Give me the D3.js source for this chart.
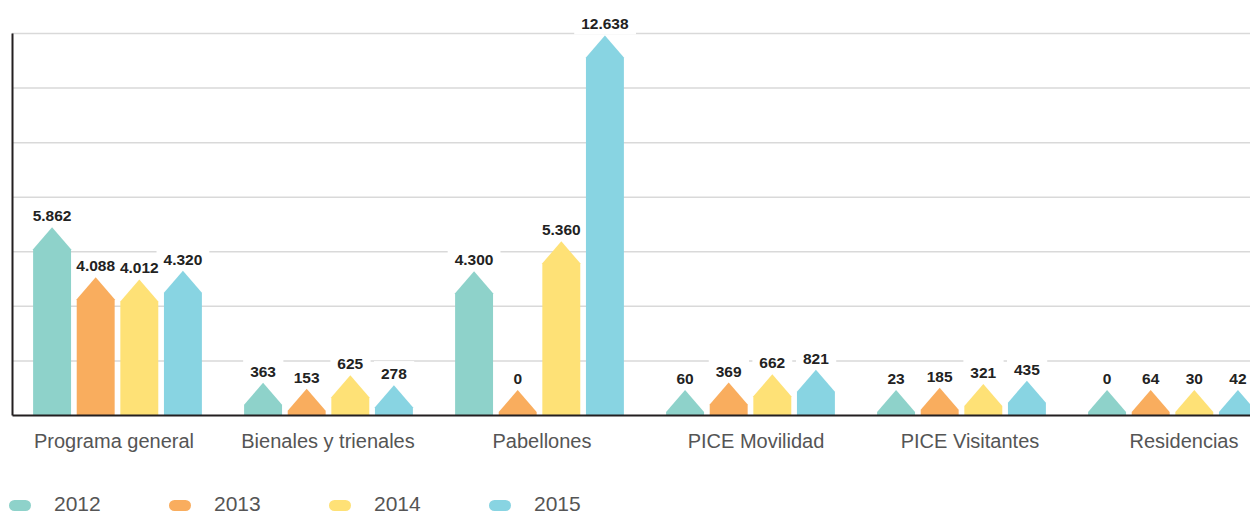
<!DOCTYPE html>
<html>
<head>
<meta charset="utf-8">
<script src="https://cdn.jsdelivr.net/npm/d3@7"></script>
<style>
  body { margin: 0; background: #fff; overflow: hidden; }
  #diagram { width: 1250px; height: 516px; overflow: hidden; }
  text { font-family: 'Liberation Sans', Arial, sans-serif; }
  .value-label { font-size: 15.5px; font-weight: bold; fill: #222; }
  .category-label { font-size: 20px; fill: #555; }
  .legend-label { font-size: 21px; fill: #555; }
</style>
</head>
<body>
<div id="diagram"></div>
<script>
// Chart data
var categories = [
  'Programa general',
  'Bienales y trienales',
  'Pabellones',
  'PICE Movilidad',
  'PICE Visitantes',
  'Residencias'
];
var years = ['2012', '2013', '2014', '2015'];
var values2012 = [5862, 363, 4300, 60, 23, 0];
var values2013 = [4088, 153, 0, 369, 185, 64];
var values2014 = [4012, 625, 5360, 662, 321, 30];
var values2015 = [4320, 278, 12638, 821, 435, 42];
var yearColors = ['#8ed2ca', '#f9ad5e', '#fee176', '#88d4e2'];

function init() {
  var series = [values2012, values2013, values2014, values2015];

  // SVG (wider than the window, right edge is cut like the original)
  var w = 1290;
  var h = 516;
  var left = 12;
  var baseY = 415;
  var topY = 33;
  var tipH = 22;
  var minBody = 3;
  var yMax = 13500;

  var svg = d3
    .select('#diagram')
    .append('svg')
    .attr('width', w)
    .attr('height', h);

  // Scales - groups
  var x0 = d3
    .scaleBand()
    .domain(categories)
    .range([left, 1278])
    .paddingInner(0.2)
    .paddingOuter(0.1);

  // Scales - years inside group
  var x1 = d3
    .scaleBand()
    .domain(years)
    .range([0, x0.bandwidth()])
    .paddingInner(0.13);

  // Scales - category labels under the axis
  var xLabel = d3
    .scalePoint()
    .domain(categories)
    .range([7, 1291])
    .padding(0.5);

  // Scales - values
  var y = d3.scaleLinear().domain([0, yMax]).range([baseY, topY]);

  // Spanish number format
  var fmt = d3
    .formatLocale({ decimal: ',', thousands: '.', grouping: [3], currency: ['', '€'] })
    .format(',');

  // Grid lines (7 equal steps up to the top)
  var gridValues = d3.range(1, 8).map((i) => (yMax * i) / 7);
  var grid = svg
    .append('g')
    .attr('transform', `translate(${left}, 0)`)
    .call(d3.axisLeft(y).tickValues(gridValues).tickSize(-(w - left)).tickFormat(''));
  grid.select('.domain').remove();
  grid.selectAll('line').attr('stroke', '#d9d9d9').attr('stroke-width', 1.5);

  // Flatten data => [category, year, value, index]
  var barData = [];
  categories.forEach((c, ci) => {
    years.forEach((yr, yi) => {
      barData.push([c, yr, series[yi][ci], yi]);
    });
  });

  function shoulderY(d) {
    return Math.min(y(d[2]), baseY - minBody);
  }

  // Arrow shaped bars
  function arrowPath(d) {
    var xa = x0(d[0]) + x1(d[1]);
    var xb = xa + x1.bandwidth();
    var xc = (xa + xb) / 2;
    var s = shoulderY(d);
    return `M${xa},${baseY} L${xa},${s} L${xc},${s - tipH} L${xb},${s} L${xb},${baseY} Z`;
  }

  // Layers: label backgrounds sit under the bars, texts on top
  var bgLayer = svg.append('g');
  var barLayer = svg.append('g');
  var textLayer = svg.append('g');

  barLayer
    .selectAll('path')
    .data(barData)
    .enter()
    .append('path')
    .attr('d', arrowPath)
    .attr('fill', (d) => yearColors[d[3]]);

  // Value labels
  var texts = textLayer
    .selectAll('text')
    .data(barData)
    .enter()
    .append('text')
    .attr('class', 'value-label')
    .attr('text-anchor', 'middle')
    .attr('x', (d) => x0(d[0]) + x1(d[1]) + x1.bandwidth() / 2)
    .attr('y', (d) => shoulderY(d) - tipH - 6)
    .text((d) => fmt(d[2]));

  // White boxes that cut the grid lines behind labels
  texts.each(function () {
    var box = this.getBBox();
    bgLayer
      .append('rect')
      .attr('x', box.x - 7)
      .attr('y', box.y - 4)
      .attr('width', box.width + 14)
      .attr('height', box.height + 6)
      .attr('fill', '#fff');
  });

  // Y axis line
  var yAxis = svg
    .append('g')
    .attr('transform', `translate(${left}, 0)`)
    .call(d3.axisLeft(y).ticks(0).tickSizeOuter(0));
  yAxis.select('.domain').attr('stroke', '#231f20').attr('stroke-width', 2);

  // X axis line
  var xAxis = svg
    .append('g')
    .attr('transform', `translate(0, ${baseY})`)
    .call(d3.axisBottom(x0).tickSize(0).tickFormat(''));
  xAxis.select('.domain').attr('stroke', '#231f20').attr('stroke-width', 2);

  // Category labels
  svg
    .append('g')
    .selectAll('text')
    .data(categories)
    .enter()
    .append('text')
    .attr('class', 'category-label')
    .attr('text-anchor', 'middle')
    .attr('x', (d) => xLabel(d))
    .attr('y', 448)
    .text((d) => d);

  // Legend
  var legend = svg
    .append('g')
    .selectAll('g')
    .data(years)
    .enter()
    .append('g')
    .attr('transform', (d, i) => `translate(${9 + i * 160}, 500)`);

  legend
    .append('rect')
    .attr('width', 22)
    .attr('height', 11)
    .attr('rx', 5.5)
    .attr('fill', (d, i) => yearColors[i]);

  legend
    .append('text')
    .attr('class', 'legend-label')
    .attr('x', 45)
    .attr('y', 11)
    .text((d) => d);
}

window.onload = init;
</script>
</body>
</html>
